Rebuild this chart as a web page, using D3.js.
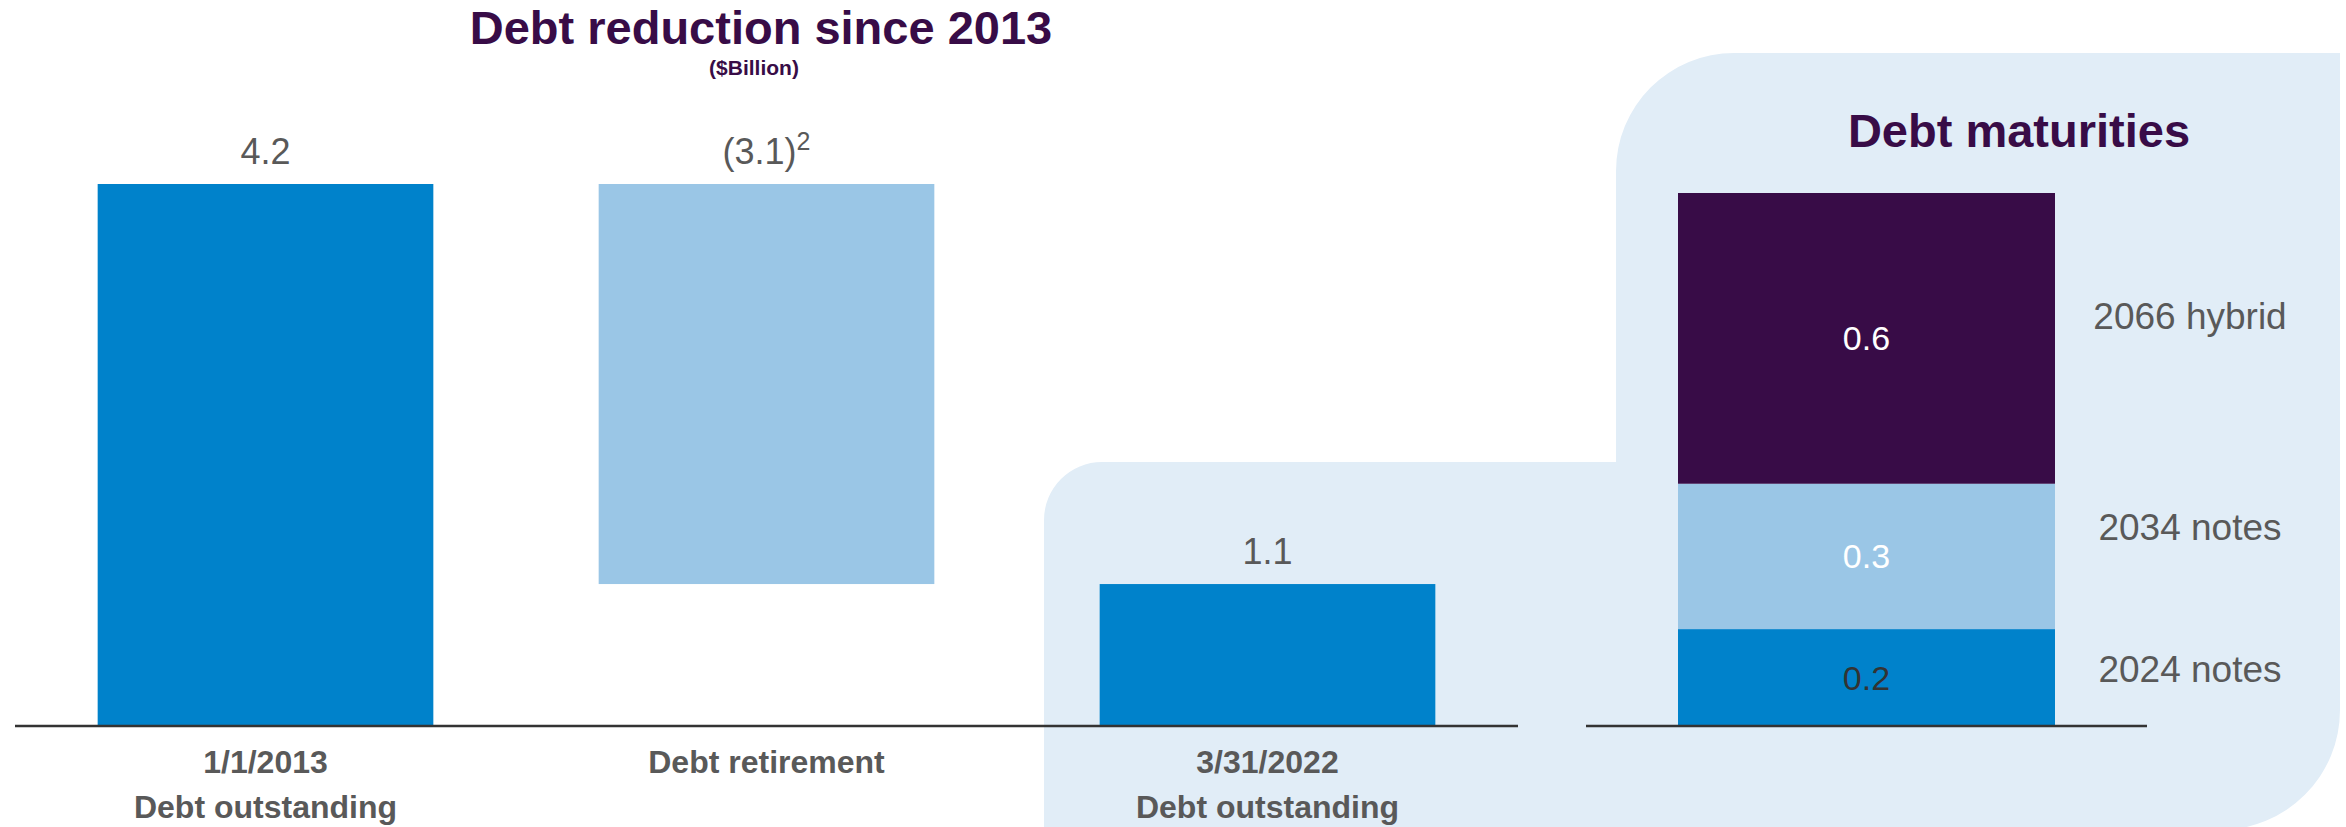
<!DOCTYPE html>
<html>
<head>
<meta charset="utf-8">
<script src="https://cdn.jsdelivr.net/npm/d3@7"></script>
<style>
  html, body { margin: 0; padding: 0; background: #ffffff; }
  svg { display: block; font-family: "Liberation Sans", Arial, Helvetica, sans-serif; }
</style>
</head>
<body>
<svg id="chart" width="2346" height="827"></svg>
<script>
// ---- Data ----
const reductionCategories = ["1/1/2013|Debt outstanding", "Debt retirement", "3/31/2022|Debt outstanding"];
const reductionStart = [0, 1.1, 0];
const reductionEnd = [4.2, 4.2, 1.1];
const reductionLabels = ["4.2", "(3.1)", "1.1"];
const reductionSuper = ["", "2", ""];
const reductionKinds = ["total", "change", "total"];

const maturityCategory = ["Maturities"];
const maturitySeries = ["2024 notes", "2034 notes", "2066 hybrid"];
const maturityValues = [0.2, 0.3, 0.6];
const maturityLabels = ["0.2", "0.3", "0.6"];

// ---- Style ----
const C = {
  blue: "#0082CB",
  light: "#9AC6E6",
  purple: "#380C47",
  panel: "#E1EDF7",
  gray: "#595959",
  axis: "#333333"
};

const svg = d3.select("#chart");

// Background panel shape
const panel = d3.path();
panel.moveTo(1044, 840);
panel.lineTo(1044, 520);
panel.arcTo(1044, 462, 1102, 462, 58);
panel.lineTo(1616, 462);
panel.lineTo(1616, 171);
panel.arcTo(1616, 53, 1734, 53, 118);
panel.lineTo(2340, 53);
panel.lineTo(2340, 710);
panel.arcTo(2340, 830, 2220, 830, 120);
panel.lineTo(1044, 830);
panel.closePath();
svg.append("path").attr("d", panel.toString()).attr("fill", C.panel);

// ---- Left chart: Debt reduction ----
const baseY = 726;
const x1 = d3.scaleBand().domain(reductionCategories).range([15, 1518]).paddingInner(0.33).paddingOuter(0.165);
const y1 = d3.scaleLinear().domain([0, 4.2]).range([baseY, 184]);

svg.append("text")
  .attr("x", 761).attr("y", 44)
  .attr("text-anchor", "middle")
  .attr("font-size", 47).attr("font-weight", "bold")
  .attr("fill", C.purple)
  .text("Debt reduction since 2013");
svg.append("text")
  .attr("x", 754).attr("y", 75)
  .attr("text-anchor", "middle")
  .attr("font-size", 21).attr("font-weight", "bold")
  .attr("fill", C.purple)
  .text("($Billion)");

const bars1 = svg.append("g");
reductionCategories.forEach((c, i) => {
  bars1.append("rect")
    .attr("x", x1(c))
    .attr("width", x1.bandwidth())
    .attr("y", y1(reductionEnd[i]))
    .attr("height", y1(reductionStart[i]) - y1(reductionEnd[i]))
    .attr("fill", reductionKinds[i] === "total" ? C.blue : C.light);
  const t = bars1.append("text")
    .attr("x", x1(c) + x1.bandwidth() / 2)
    .attr("y", y1(reductionEnd[i]) - 20)
    .attr("text-anchor", "middle")
    .attr("font-size", 36)
    .attr("fill", C.gray)
    .text(reductionLabels[i]);
  if (reductionSuper[i]) {
    t.append("tspan").attr("dy", -14).attr("font-size", 25).text(reductionSuper[i]);
  }
  const lines = c.split("|");
  lines.forEach((ln, j) => {
    bars1.append("text")
      .attr("x", x1(c) + x1.bandwidth() / 2)
      .attr("y", 773 + j * 45)
      .attr("text-anchor", "middle")
      .attr("font-size", 32).attr("font-weight", "bold")
      .attr("fill", C.gray)
      .text(ln);
  });
});

svg.append("line")
  .attr("x1", 15).attr("x2", 1518)
  .attr("y1", baseY).attr("y2", baseY)
  .attr("stroke", C.axis).attr("stroke-width", 2.5);

// ---- Right chart: Debt maturities ----
const x2 = d3.scaleBand().domain(maturityCategory).range([1586, 2147]).paddingInner(0.328).paddingOuter(0.164);
const y2 = d3.scaleLinear().domain([0, 1.1]).range([baseY, 193]);
const stackData = [Object.fromEntries(maturitySeries.map((s, i) => [s, maturityValues[i]]))];
const stacked = d3.stack().keys(maturitySeries)(stackData);
const segColors = [C.blue, C.light, C.purple];
const valColors = ["#333333", "#ffffff", "#ffffff"];
const sideOffsets = [-9, -29, -22];

svg.append("text")
  .attr("x", 2019).attr("y", 147)
  .attr("text-anchor", "middle")
  .attr("font-size", 47).attr("font-weight", "bold")
  .attr("fill", C.purple)
  .text("Debt maturities");

stacked.forEach((layer, i) => {
  const d = layer[0];
  const cx = x2(maturityCategory[0]) + x2.bandwidth() / 2;
  const mid = (y2(d[0]) + y2(d[1])) / 2;
  svg.append("rect")
    .attr("x", x2(maturityCategory[0]))
    .attr("width", x2.bandwidth())
    .attr("y", y2(d[1]))
    .attr("height", y2(d[0]) - y2(d[1]))
    .attr("fill", segColors[i]);
  svg.append("text")
    .attr("x", cx).attr("y", mid + 12)
    .attr("text-anchor", "middle")
    .attr("font-size", 34)
    .attr("fill", valColors[i])
    .text(maturityLabels[i]);
  svg.append("text")
    .attr("x", 2190).attr("y", mid + 13 + sideOffsets[i])
    .attr("text-anchor", "middle")
    .attr("font-size", 37)
    .attr("fill", C.gray)
    .text(maturitySeries[i]);
});

svg.append("line")
  .attr("x1", 1586).attr("x2", 2147)
  .attr("y1", baseY).attr("y2", baseY)
  .attr("stroke", C.axis).attr("stroke-width", 2.5);
</script>
</body>
</html>
